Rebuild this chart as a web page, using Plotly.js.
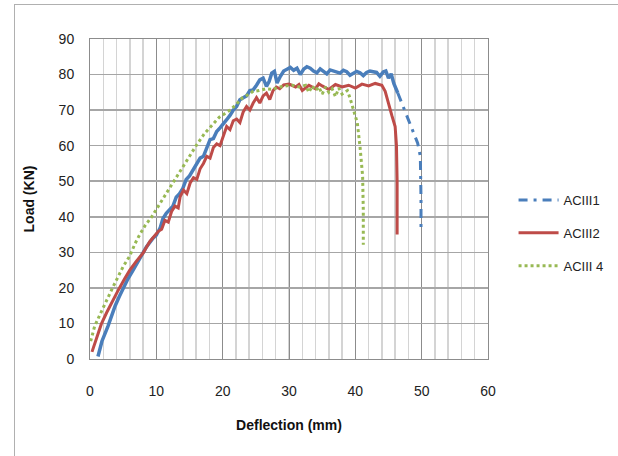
<!DOCTYPE html>
<html>
<head>
<meta charset="utf-8">
<script src="https://cdn.plot.ly/plotly-3.0.1.min.js"></script>
<style>
  html, body { margin: 0; padding: 0; background: #fff; }
  #wrap { position: relative; width: 618px; height: 456px; }
  #frame { position: absolute; left: 14px; top: 4px; width: 610px; height: 460px;
           border-left: 1px solid #b0b0b0; border-top: 1px solid #b0b0b0; pointer-events: none; }
  #chart { position: absolute; left: 0; top: 0; width: 618px; height: 456px; }
</style>
</head>
<body>
<div id="wrap">
  <div id="chart"></div>
  <div id="frame"></div>
</div>
<script>
// ---- data (deflection mm, load kN) ----
var seriesNames = ["ACIII1", "ACIII2", "ACIII 4"];

// ACIII1 : dense measured part
var a1X = [1.2, 1.8, 2.7, 3.2, 3.8, 4.4, 5.0, 5.7, 6.5, 7.5, 8.5, 9.5, 10.0, 10.6, 11.0, 11.5, 12.0, 12.5, 13.0, 13.5, 14.0, 14.5, 15.0, 15.5, 16.1, 16.6, 17.1, 17.6, 18.1, 18.6, 19.1, 19.6, 20.1, 20.6, 21.1, 21.6, 22.1, 22.6, 23.1, 23.6, 24.1, 24.6, 25.1, 25.6, 26.1, 26.6, 27.0, 27.4, 27.8, 28.2, 28.7, 29.2, 29.7, 30.2, 30.7, 31.2, 31.7, 32.2, 32.7, 33.2, 33.7, 34.2, 34.7, 35.2, 35.7, 36.2, 36.7, 37.2, 37.7, 38.2, 38.7, 39.2, 39.7, 40.2, 40.7, 41.2, 41.7, 42.2, 42.7, 43.2, 43.7, 44.2, 44.6, 45.0, 45.4, 45.8, 46.4];
var a1Y = [0.7, 5.0, 9.2, 12.0, 15.0, 17.5, 20.0, 22.5, 25.0, 28.5, 31.5, 34.0, 34.8, 37.0, 39.5, 41.0, 42.0, 43.0, 45.5, 46.5, 48.0, 50.5, 51.5, 53.0, 55.0, 56.5, 57.0, 59.5, 61.7, 62.0, 64.0, 65.0, 66.0, 67.3, 68.5, 70.0, 71.0, 72.9, 73.5, 74.0, 75.5, 75.7, 77.0, 78.5, 79.0, 76.7, 78.0, 80.4, 80.9, 77.6, 79.5, 81.0, 81.5, 82.0, 81.2, 81.8, 80.0, 81.5, 82.2, 81.8, 81.0, 80.5, 81.6, 81.0, 80.2, 81.3, 81.0, 80.5, 80.4, 81.2, 80.8, 79.8, 80.3, 80.9, 80.5, 79.7, 80.6, 81.0, 80.8, 80.6, 79.5, 80.7, 81.0, 79.0, 80.2, 77.5, 74.8];
// ACIII1 : sparse falling tail
var a1TailX = [46.4, 47.3, 48.5, 49.4, 49.8, 49.9, 49.9, 49.9];
var a1TailY = [74.8, 70.6, 65.0, 60.7, 57.0, 50.0, 45.0, 36.8];

// ACIII2
var a2X = [0.3, 1.0, 1.7, 2.5, 3.3, 4.3, 5.2, 6.0, 7.0, 8.0, 9.0, 10.3, 10.8, 11.3, 11.8, 12.3, 12.8, 13.3, 13.6, 14.1, 14.6, 15.1, 15.6, 16.1, 16.6, 17.1, 17.6, 18.1, 18.6, 19.1, 19.6, 20.1, 20.6, 21.1, 21.6, 22.1, 22.6, 23.1, 23.6, 24.1, 24.6, 25.1, 25.6, 26.1, 26.6, 27.1, 27.6, 28.1, 28.6, 29.2, 30.0, 31.0, 31.5, 32.0, 33.0, 34.0, 34.5, 35.0, 36.0, 37.0, 38.0, 39.0, 40.0, 41.0, 42.0, 43.0, 44.0, 44.5, 45.0, 45.5, 46.0, 46.2, 46.3, 46.3];
var a2Y = [2.0, 6.0, 9.8, 13.0, 16.0, 19.5, 22.5, 25.0, 27.5, 29.8, 33.0, 35.9, 36.5, 39.0, 38.5, 41.5, 43.0, 42.5, 45.7, 47.5, 46.5, 49.5, 51.0, 50.5, 53.5, 55.0, 57.0, 56.5, 59.5, 60.5, 60.0, 63.0, 65.4, 64.5, 67.0, 67.5, 66.5, 69.5, 71.0, 70.0, 72.0, 73.5, 72.0, 74.0, 74.8, 73.0, 75.5, 76.5, 76.0, 77.1, 77.3, 76.5, 77.2, 75.5, 77.0, 76.0, 77.4, 76.8, 75.8, 77.2, 76.5, 77.0, 76.2, 77.3, 76.8, 77.5, 77.0, 75.3, 71.5, 68.5, 65.4, 60.0, 50.0, 35.0];

// ACIII 4
var a4X = [0.1, 0.3, 0.7, 1.5, 2.0, 2.5, 3.4, 4.2, 5.0, 6.0, 6.8, 7.5, 8.3, 9.3, 10.3, 11.0, 12.0, 13.0, 14.0, 15.0, 16.0, 17.3, 18.5, 19.5, 20.3, 21.1, 22.0, 23.0, 24.0, 24.6, 25.5, 26.5, 27.5, 28.5, 29.5, 30.5, 31.5, 32.5, 33.0, 33.5, 34.0, 34.5, 35.0, 35.5, 36.0, 36.5, 37.0, 37.5, 38.0, 38.8, 39.2, 39.8, 40.3, 40.7, 41.1, 41.2, 41.2];
var a4Y = [5.0, 6.5, 9.2, 12.5, 14.5, 16.7, 20.0, 23.0, 26.0, 29.0, 32.5, 35.0, 37.5, 40.0, 43.0, 45.0, 48.0, 51.0, 54.0, 57.0, 60.0, 63.5, 66.0, 68.0, 69.0, 70.0, 71.5, 73.5, 74.5, 75.3, 75.5, 76.0, 75.8, 76.5, 76.8, 77.0, 76.5, 77.0, 75.0, 76.8, 75.5, 76.5, 74.5, 76.5, 75.0, 76.0, 73.8, 76.2, 74.5, 75.5, 73.4, 69.2, 66.4, 59.8, 51.4, 42.0, 32.1];

var xTicks = [0, 10, 20, 30, 40, 50, 60];
var yTicks = [0, 10, 20, 30, 40, 50, 60, 70, 80, 90];

var blue = "#4a7ebb", red = "#be4b48", green = "#98b954";

var traces = [
  { x: a1X, y: a1Y, type: "scatter", mode: "lines", name: seriesNames[0], legendgroup: "g1",
    showlegend: false, line: { color: blue, width: 3.5 } },
  { x: a1TailX, y: a1TailY, type: "scatter", mode: "lines", name: seriesNames[0], legendgroup: "g1",
    line: { color: blue, width: 3, dash: "9px,6px,3px,6px" } },
  { x: a2X, y: a2Y, type: "scatter", mode: "lines", name: seriesNames[1], legendgroup: "g2",
    line: { color: red, width: 3 } },
  { x: a4X, y: a4Y, type: "scatter", mode: "lines", name: seriesNames[2], legendgroup: "g3",
    line: { color: green, width: 3, dash: "dot" } }
];

var fam = "Liberation Sans, Arial, sans-serif";

var layout = {
  width: 618, height: 456,
  margin: { l: 90, r: 130, t: 39, b: 97 },
  paper_bgcolor: "#fff", plot_bgcolor: "#fff",
  font: { family: fam, size: 14, color: "#222" },
  showlegend: true,
  legend: {
    xref: "container", yref: "container", x: 0.831, y: 1 - 185 / 456,
    xanchor: "left", yanchor: "top",
    itemwidth: 40, tracegroupgap: 13,
    font: { family: fam, size: 13, color: "#222" },
    bgcolor: "rgba(0,0,0,0)"
  },
  xaxis: {
    range: [0, 60], tickvals: xTicks, ticktext: xTicks.map(String),
    tickfont: { family: fam, size: 14, color: "#222" },
    showgrid: true, gridcolor: "#8c8c8c", gridwidth: 1,
    minor: { dtick: 2, showgrid: true, gridcolor: "#d4d4d4", gridwidth: 1.5 },
    showline: true, linecolor: "#8c8c8c", linewidth: 1, mirror: true,
    zeroline: false, ticks: "", ticklabelstandoff: 19,
    title: { text: "<b>Deflection (mm)</b>", font: { family: fam, size: 14, color: "#111" }, standoff: 22 }
  },
  yaxis: {
    range: [0, 90], tickvals: yTicks, ticktext: yTicks.map(String),
    tickfont: { family: fam, size: 14, color: "#222" },
    showgrid: true, gridcolor: "#a6a6a6", gridwidth: 1.5,
    showline: true, linecolor: "#8c8c8c", linewidth: 1, mirror: true,
    zeroline: false, ticks: "", ticklabelstandoff: 12,
    title: { text: "<b>Load (KN)</b>", font: { family: fam, size: 14, color: "#111" }, standoff: 20 }
  }
};

Plotly.newPlot("chart", traces, layout, { displayModeBar: false, staticPlot: true });
</script>
</body>
</html>
